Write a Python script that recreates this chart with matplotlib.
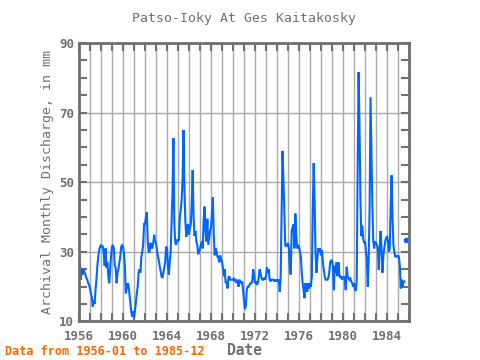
import numpy as np
import matplotlib
matplotlib.use("Agg")
import matplotlib.pyplot as plt
from matplotlib.ticker import MultipleLocator

title = "Patso-Ioky At Ges Kaitakosky"
start_year = 1956
nan = np.nan

# monthly discharge, mm, one row per year (1956 .. 1985)
discharge = [
    [29.7, 27, 22, 25, 23.5, 25, 24, 23.5, 22.5, 22, 21, 20.5],
    [19.5, 18, 17, 14.3, 16, 15, 19, 22, 26, 28.6, 30.5, 31.5],
    [31.9, 31.5, 31.5, 29.5, 26, 31, 25.5, 27, 23, 21, 25, 29],
    [31.5, 32, 31, 26, 25.5, 21, 24, 25, 27, 28.5, 31.5, 31.9],
    [31.5, 29.5, 26, 18, 19.5, 21, 20.5, 18, 15.5, 12.8, 11.4, 13],
    [11, 13, 15.3, 18, 20, 24, 25, 24, 28.5, 30, 32, 38],
    [38, 40, 41.4, 33, 30, 30, 32.6, 31.5, 31, 32.6, 34.9, 33],
    [32.6, 30.5, 29, 27.5, 26, 24.5, 23, 22.5, 24, 25.5, 27, 31.5],
    [31, 26, 23.5, 27, 30, 39, 47, 62.7, 38, 32.6, 32, 33.5],
    [33, 33.5, 40, 42, 45, 51, 65, 48, 39, 34.3, 37, 38],
    [35, 37, 38, 44, 53.5, 40, 34.6, 36, 33, 32, 29.3, 30],
    [31, 32, 33, 31, 39.5, 43, 36, 33, 39.5, 32, 34, 36],
    [37, 41, 45.7, 35, 29, 31, 30, 28.6, 28.6, 27, 29, 28],
    [27, 25.5, 23, 25, 21, 21.5, 19.5, 22.5, 23, 22, 22, 22],
    [22, 22.5, 21.5, 22, 21, 22, 20, 22, 21.5, 21, 21.5, 19],
    [16, 13.5, 14.5, 19, 20, 20, 20.5, 21, 21, 21.5, 25, 23.5],
    [21, 21.5, 20.5, 21, 22.5, 25, 24, 22.5, 22, 22, 22.5, 22],
    [23, 25.5, 24, 25, 22, 21.5, 22, 22, 22, 21.5, 22, 21.5],
    [22, 21.5, 22, 18.5, 23, 40, 59, 51, 41, 32, 31.5, 32],
    [32.5, 31, 25, 23.5, 36, 37, 38, 31, 41, 35, 31, 32],
    [31.5, 30, 28.8, 24, 21, 19, 16.7, 21, 20, 18.5, 21, 19.5],
    [21, 20, 23, 42, 55.5, 45, 30, 24, 28, 31, 30, 31],
    [29, 30.5, 27, 25, 23, 22, 22, 22, 22.5, 24, 27, 27.5],
    [27.5, 26, 19, 26, 24, 27, 23, 27, 23.5, 22.5, 23, 22],
    [22.5, 23, 22, 19, 25.7, 23, 22.5, 22, 22.3, 21.5, 21, 20],
    [21, 19, 19, 22, 55, 81.6, 66, 45, 34.5, 37.5, 34, 32.5],
    [33, 30, 28, 20, 28, 42, 74.4, 59.5, 44, 33, 31, 33],
    [32.5, 32, 31, 24.8, 31, 36, 31, 24, 29, 31, 33, 34],
    [34.5, 33, 30, 31, 43, 52, 40, 32, 30, 28.5, 29, 28.5],
    [29, 28.5, 26, 19.5, 22, 20, 21.5, 21.5, nan, 33.3, nan, nan],
]

values = np.array(discharge, dtype=float).ravel()
dates = start_year + np.arange(len(values)) / 12.0

# points with no neighbours get drawn as a dot
ok = ~np.isnan(values)
prev_ok = np.r_[False, ok[:-1]]
next_ok = np.r_[ok[1:], False]
single = ok & ~prev_ok & ~next_ok

gray = "#707070"
blue = "#0066ff"
mono = "DejaVu Sans Mono"

fig = plt.figure(figsize=(4.8, 3.6), dpi=100)
ax = fig.add_axes([0.1646, 0.107, 0.6875, 0.7736])

ax.plot(dates, values, color=blue, lw=1.5, solid_joinstyle="miter")
ax.plot(dates[single], values[single], "o", color=blue, ms=3)

ax.set_xlim(1956, 1986)
ax.set_ylim(10, 90)
ax.xaxis.set_major_locator(MultipleLocator(4))
ax.xaxis.set_minor_locator(MultipleLocator(1))
ax.set_yticks([10, 30, 50, 70, 90])
ax.yaxis.set_minor_locator(MultipleLocator(5))

ax.grid(True, which="major", axis="y", color="#aaaaaa", lw=1)
ax.grid(True, which="both", axis="x", color="#aaaaaa", lw=1)
ax.set_axisbelow(True)

ax.tick_params(which="both", direction="in", top=True, right=True,
               color=gray, width=1.5, labelcolor=gray, length=6)
ax.tick_params(axis="x", which="major", pad=6)
for lab in ax.get_xticklabels() + ax.get_yticklabels():
    lab.set_fontfamily(mono)
    lab.set_fontweight("bold")
    lab.set_fontsize(9)
for s in ax.spines.values():
    s.set_color(gray)
    s.set_linewidth(2)

ax.set_title(title, fontfamily=mono, fontsize=9.5, color=gray, pad=15)
ax.set_xlabel("Date", fontfamily=mono, fontweight="bold", fontsize=10.5,
              color=gray, labelpad=0)
ax.set_ylabel("Archival Monthly Discharge, in mm", fontfamily=mono,
              fontsize=9.5, color=gray, labelpad=4)

fig.text(0.01, 0.015, "Data from 1956-01 to 1985-12", fontfamily=mono,
         fontweight="bold", fontsize=8.5, color="#ff6600")

fig.savefig("out.png", dpi=100)
